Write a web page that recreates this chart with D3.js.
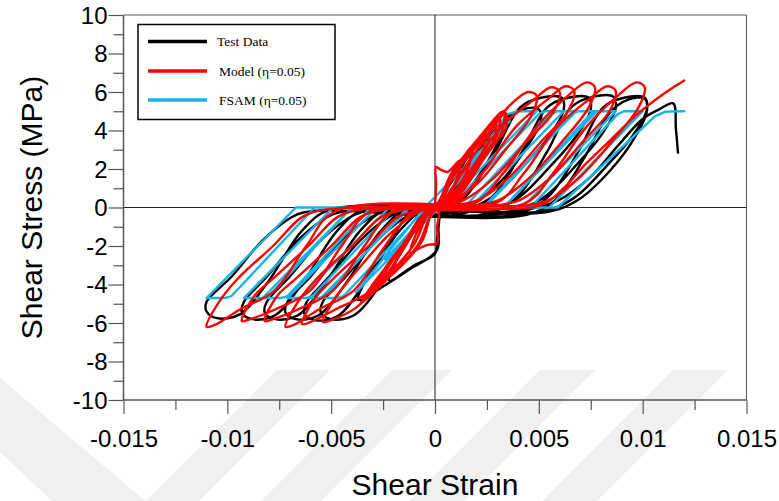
<!DOCTYPE html>
<html>
<head>
<meta charset="utf-8">
<script src="https://cdn.jsdelivr.net/npm/d3@7"></script>
<style>
  html, body { margin: 0; padding: 0; background: #fff; }
  svg { display: block; }
</style>
</head>
<body>
<div id="chart"></div>
<script>
// ---------------- DATA ----------------
const xTickValues = [-0.015, -0.01, -0.005, 0, 0.005, 0.01, 0.015];
const xTickLabels = ["-0.015", "-0.01", "-0.005", "0", "0.005", "0.01", "0.015"];
const xMinorTicks = [-0.0125, -0.0075, -0.0025, 0.0025, 0.0075, 0.0125];
const yTickValues = [-10, -8, -6, -4, -2, 0, 2, 4, 6, 8, 10];
const yTickLabels = ["-10", "-8", "-6", "-4", "-2", "0", "2", "4", "6", "8", "10"];
const yMinorTicks = [-9, -7, -5, -3, -1, 1, 3, 5, 7, 9];

const seriesNames = ["Test Data", "Model (\u03b7=0.05)", "FSAM (\u03b7=0.05)"];

// Test data: [shear strain, shear stress MPa]
const testData = [
  [0,0],[0.0006,1.0],[0.0012,2.0],[0.0018,2.9],
  [0.0013,1.5],[0.0006,0.3],[0.0002,-0.3],[0.0002,-0.7],[0.0001,-1.6],[0.0000,-2.4],[-0.0010,-3.0],[-0.0022,-3.8],
  [-0.0017,-2.4],[-0.0009,-0.8],[-0.0003,0.05],
  [0.0005,0.4],[0.0014,1.9],[0.0025,3.5],[0.0034,4.6],
  [0.0029,3.1],[0.0018,1.2],[0.0006,-0.2],[0.0002,-0.6],[0.0001,-2.2],[-0.0012,-3.2],[-0.0025,-4.1],[-0.0037,-4.8],
  [-0.0031,-3.3],[-0.0020,-1.4],[-0.0008,0.0],
  [0.0004,-0.2],[0.0012,0.9],[0.0024,3.0],[0.0034,4.6],[0.0042,5.1],[0.0050,5.1],
  [0.0051,4.5],[0.0044,3.1],[0.0032,1.4],[0.0018,0.2],[0.0004,-0.3],
  [-0.0003,0.0],[-0.0010,-1.2],[-0.0025,-3.8],[-0.0039,-5.6],[-0.0050,-5.8],[-0.0055,-5.45],
  [-0.0054,-4.9],[-0.0043,-3.6],[-0.0027,-1.6],[-0.0011,-0.3],[-0.0002,0.0],
  [0.0004,-0.3],[0.0015,0.6],[0.0029,2.9],[0.0041,5.2],[0.0051,5.7],[0.0061,5.7],
  [0.0062,5.1],[0.0055,3.7],[0.0043,2.2],[0.0027,0.5],[0.0011,-0.2],
  [-0.0003,0.0],[-0.0017,-1.2],[-0.0033,-3.8],[-0.0047,-5.65],[-0.0058,-5.85],[-0.0063,-5.5],
  [-0.0062,-4.95],[-0.0051,-3.6],[-0.0035,-1.6],[-0.0019,-0.3],[-0.0005,-0.05],
  [0.0014,-0.3],[0.0028,0.6],[0.0042,2.9],[0.0054,5.2],[0.0064,5.7],[0.0074,5.7],
  [0.0075,5.1],[0.0068,3.7],[0.0056,2.2],[0.0040,0.5],[0.0024,-0.2],
  [-0.0012,0.0],[-0.0026,-1.2],[-0.0042,-3.8],[-0.0056,-5.6],[-0.0067,-5.8],[-0.0072,-5.45],
  [-0.0071,-4.9],[-0.0060,-3.6],[-0.0044,-1.6],[-0.0028,-0.35],[-0.0014,-0.1],
  [0.0004,-0.4],[0.0026,-0.3],[0.0040,0.6],[0.0054,2.9],[0.0066,5.25],[0.0076,5.75],[0.0086,5.75],
  [0.0087,5.15],[0.0080,3.75],[0.0068,2.2],[0.0052,0.5],[0.0036,-0.2],
  [-0.0022,-0.05],[-0.0036,-1.2],[-0.0052,-3.8],[-0.0066,-5.6],[-0.0077,-5.8],[-0.0082,-5.45],
  [-0.0081,-4.9],[-0.0070,-3.6],[-0.0054,-1.6],[-0.0038,-0.35],[-0.0024,-0.1],
  [0.0004,-0.45],[0.0041,-0.3],[0.0055,0.6],[0.0069,2.9],[0.0081,5.2],[0.0091,5.7],[0.0101,5.7],
  [0.0102,5.1],[0.0095,3.7],[0.0083,2.2],[0.0067,0.5],[0.0051,-0.2],
  [-0.0033,-0.05],[-0.0047,-1.2],[-0.0063,-3.8],[-0.0077,-5.6],[-0.0088,-5.8],[-0.0093,-5.45],
  [-0.0092,-4.9],[-0.0081,-3.6],[-0.0065,-1.6],[-0.0049,-0.35],[-0.0035,-0.15],
  [0.0004,-0.5],[0.0045,-0.35],[0.0058,0.4],[0.0072,2.6],[0.0084,4.9],[0.0093,5.6],[0.0101,5.65],
  [0.0102,5.0],[0.0096,3.6],[0.0085,2.0],[0.0069,0.4],[0.0053,-0.25],
  [-0.0050,-0.1],[-0.0064,-1.2],[-0.0080,-3.8],[-0.0094,-5.55],[-0.0105,-5.75],[-0.0110,-5.4],
  [-0.0110,-4.9],[-0.0098,-3.6],[-0.0082,-1.6],[-0.0066,-0.35],[-0.0052,-0.15],
  [0.0005,-0.5],[0.0030,-0.35],[0.0045,-0.1],[0.0060,0.4],[0.0075,1.6],[0.0088,3.2],[0.0100,4.6],[0.0108,5.1],[0.01147,5.41],[0.0116,4.1],[0.0117,2.85]
];

// Model (eta = 0.05)
const modelData = [
  [0,0],[0.00005,1.2],[0.00005,2.1],[0.0003,1.95],[0.0006,1.85],[0.0012,2.45],
  [0.0011,1.7],[0.0006,0.6],[0.0001,0.0],
  [0.0002,-0.3],[0.0001,-1.0],[0.0001,-1.85],[-0.0004,-1.95],[-0.0009,-2.2],[-0.0012,-2.4],
  [-0.0010,-1.6],[-0.0005,-0.6],[0,0],
  [0.0002,0.3],[0.0008,1.6],[0.0013,2.5],[0.0018,3.2],
  [0.0017,2.4],[0.0012,1.2],[0.0005,0.2],[0.0001,0],
  [-0.0002,-0.4],[-0.0006,-1.6],[-0.0012,-2.5],[-0.0019,-3.1],
  [-0.0018,-2.6],[-0.0011,-1.4],[-0.0004,-0.3],[0,0],
  [0.0002,0.3],[0.0009,1.7],[0.0017,2.9],[0.0024,3.95],
  [0.0023,2.9],[0.0016,1.6],[0.0007,0.3],[0.0001,0],
  [-0.0002,-0.4],[-0.0006,-1.7],[-0.0015,-2.9],[-0.0025,-3.8],
  [-0.0022,-3.0],[-0.0013,-1.7],[-0.0004,-0.4],[0,0],
  [0.0002,0.3],[0.0008,1.8],[0.0017,3.0],[0.0026,4.1],
  [0.0025,3.2],[0.0018,2.0],[0.0008,0.5],[0.0001,0],
  [-0.0002,-0.4],[-0.0007,-1.8],[-0.0017,-3.0],[-0.0028,-4.1],
  [-0.0025,-3.3],[-0.0016,-2.0],[-0.0005,-0.5],[0,0],
  [0.0003,0.4],[0.0010,1.8],[0.0020,3.2],[0.0029,4.5],
  [0.0028,3.4],[0.0020,2.0],[0.0009,0.4],[0.0001,0],
  [-0.0002,-0.4],[-0.0007,-1.8],[-0.0018,-3.1],[-0.0031,-4.5],
  [-0.0027,-3.6],[-0.0016,-2.1],[-0.0005,-0.5],[0,0],
  [0.0003,0.3],[0.0010,1.9],[0.0020,3.3],[0.0031,4.7],
  [0.0030,3.8],[0.0022,2.5],[0.0010,0.6],[0.0001,0],
  [-0.0002,-0.4],[-0.0008,-1.9],[-0.0020,-3.4],[-0.0033,-4.7],
  [-0.0029,-3.9],[-0.0019,-2.5],[-0.0007,-0.7],[0,0],
  [0.0003,0.4],[0.0009,1.9],[0.0021,3.6],[0.0033,5.0],
  [0.0032,3.9],[0.0024,2.6],[0.0012,0.7],[0.0002,0],
  [-0.0002,-0.4],[-0.0008,-1.9],[-0.0022,-3.6],[-0.0036,-5.0],
  [-0.0030,-4.0],[-0.0020,-2.6],[-0.0008,-0.8],[0,0],
  [0.0004,0.3],[0.0013,1.9],[0.0024,3.5],[0.0034,4.9],
  [0.0034,4.1],[0.0026,3.0],[0.0014,1.0],[0.0002,0],
  [-0.0003,-0.3],[-0.0010,-1.9],[-0.0024,-3.7],[-0.0035,-4.9],
  [-0.0031,-4.2],[-0.0022,-3.0],[-0.0010,-1.2],[-0.0001,0],
  [0.0004,0.2],[0.0012,1.6],[0.0024,3.6],[0.0036,5.3],[0.0045,6.0],[0.0049,5.8],
  [0.0046,4.7],[0.0034,3.0],[0.0020,1.2],[0.0008,0.3],[0.0002,0.0],
  [-0.0004,-0.2],[-0.0012,-1.6],[-0.0024,-3.6],[-0.0038,-5.2],[-0.0050,-5.85],[-0.0054,-5.95],
  [-0.0048,-4.7],[-0.0037,-3.2],[-0.0022,-1.4],[-0.0009,-0.3],[-0.0002,0.0],
  [0.0004,0.2],[0.0016,1.8],[0.0032,4.2],[0.0047,5.55],[0.0056,6.25],[0.0060,6.0],
  [0.0057,4.95],[0.0044,3.4],[0.0028,1.5],[0.0014,0.4],[0.0004,0.1],
  [-0.0004,-0.2],[-0.0016,-2.0],[-0.0031,-4.3],[-0.0048,-5.3],[-0.0060,-5.95],[-0.0064,-6.05],
  [-0.0058,-4.75],[-0.0049,-3.7],[-0.0032,-2.0],[-0.0018,-0.5],[-0.0006,-0.1],
  [0.0009,0.2],[0.0023,1.8],[0.0039,4.2],[0.0054,5.6],[0.0063,6.3],[0.0067,6.05],
  [0.0064,5.0],[0.0051,3.4],[0.0035,1.5],[0.0021,0.4],[0.0009,0.1],
  [-0.0010,-0.2],[-0.0024,-2.0],[-0.0039,-4.3],[-0.0056,-5.3],[-0.0068,-6.1],[-0.0072,-6.2],
  [-0.0066,-4.9],[-0.0057,-3.7],[-0.0040,-2.0],[-0.0026,-0.5],[-0.0014,-0.1],
  [0.0019,0.2],[0.0033,1.8],[0.0049,4.2],[0.0064,5.8],[0.0073,6.5],[0.0077,6.25],
  [0.0074,5.2],[0.0061,3.4],[0.0045,1.5],[0.0031,0.4],[0.0019,0.1],
  [-0.0020,-0.2],[-0.0034,-2.0],[-0.0049,-4.3],[-0.0066,-5.3],[-0.0078,-5.8],[-0.0082,-5.9],
  [-0.0076,-4.6],[-0.0067,-3.7],[-0.0050,-2.0],[-0.0036,-0.5],[-0.0024,-0.1],
  [0.0029,0.2],[0.0043,1.8],[0.0059,4.2],[0.0074,5.6],[0.0083,6.3],[0.0087,6.05],
  [0.0084,5.0],[0.0071,3.4],[0.0055,1.5],[0.0041,0.4],[0.0029,0.1],
  [-0.0031,-0.2],[-0.0045,-2.0],[-0.0060,-4.3],[-0.0077,-5.3],[-0.0089,-5.8],[-0.0093,-5.9],
  [-0.0087,-4.6],[-0.0078,-3.7],[-0.0061,-2.0],[-0.0047,-0.5],[-0.0035,-0.1],
  [0.0043,0.2],[0.0057,1.8],[0.0073,4.2],[0.0088,5.8],[0.0097,6.5],[0.0101,6.25],
  [0.0098,5.2],[0.0085,3.4],[0.0069,1.5],[0.0055,0.4],[0.0043,0.1],
  [-0.0048,-0.2],[-0.0062,-2.0],[-0.0077,-4.3],[-0.0094,-5.3],[-0.0106,-6.1],[-0.0110,-6.2],
  [-0.0104,-4.9],[-0.0095,-3.7],[-0.0078,-2.0],[-0.0064,-0.5],[-0.0052,-0.1],
  [0.0000,0.0],[0.0050,0.1],[0.0062,1.0],[0.0072,2.2],[0.0083,3.35],[0.0098,4.9],[0.0110,5.9],[0.0120,6.6]
];

// FSAM (eta = 0.05)
const fsamData = [
  [0,0],[0.0024,2.8],[-0.0001,0],[-0.0024,-2.7],[0.0001,0],
  [0.0036,4.5],[-0.0005,0],[-0.0038,-4.4],[0.0002,0],
  [0.0035,4.85],[0.0040,5.0],[0.0049,5.0],[0.0004,0],[-0.0004,0],[-0.0044,-4.6],[-0.0047,-4.7],[-0.0055,-4.7],[-0.0012,0],
  [0.0007,0],[0.0050,4.85],[0.0053,5.0],[0.0062,5.0],[0.0017,0],[-0.0013,0],[-0.0053,-4.6],[-0.0056,-4.7],[-0.0065,-4.7],[-0.0022,0],
  [0.0014,0],[0.0056,4.85],[0.0059,5.0],[0.0068,5.0],[0.0023,0],[-0.0019,0],[-0.0059,-4.6],[-0.0062,-4.7],[-0.0071,-4.7],[-0.0028,0],
  [0.0024,0],[0.0066,4.85],[0.0069,5.0],[0.0078,5.0],[0.0033,0],[-0.0031,0],[-0.0071,-4.6],[-0.0074,-4.7],[-0.0083,-4.7],[-0.0040,0],
  [0.0033,0],[0.0075,4.85],[0.0078,5.0],[0.0087,5.0],[0.0042,0],[-0.0040,0],[-0.0080,-4.6],[-0.0083,-4.7],[-0.0092,-4.7],[-0.0049,0],
  [0.0046,0],[0.0088,4.85],[0.0091,5.0],[0.0100,5.0],[0.0055,0],[-0.0058,0],[-0.0098,-4.6],[-0.0101,-4.7],[-0.0110,-4.7],[-0.0067,0],
  [0.0059,0],[0.0106,4.75],[0.0111,4.98],[0.0120,5.0]
];

const seriesColors = ["#000000", "#ff0000", "#14b4ea"];

// ---------------- DRAW ----------------
const W = 779, H = 501;
const M = { left: 123.5, right: 746.5, top: 15, bottom: 400 };

const svg = d3.select("#chart").append("svg")
  .attr("width", W).attr("height", H)
  .attr("viewBox", `0 0 ${W} ${H}`);

svg.append("rect").attr("width", W).attr("height", H).attr("fill", "#fff");

// faint background watermark stripes (decoration)
const wm = svg.append("g").attr("fill", "#f0f0f0");
const stripes = [
  [[0,378],[145,501],[52,501],[0,452]],
  [[277,370],[330,370],[199,501],[146,501]],
  [[392,370],[452,370],[321,501],[261,501]],
  [[540,370],[595,370],[464,501],[409,501]],
  [[673,370],[728,370],[597,501],[542,501]]
];
stripes.forEach(p => wm.append("polygon").attr("points", p.map(q => q.join(",")).join(" ")));

const x = d3.scaleLinear().domain([-0.015, 0.015]).range([M.left, M.right]);
const y = d3.scaleLinear().domain([-10, 10]).range([M.bottom, M.top]);

const axisColor = "#555";
const font = "'Liberation Sans', Arial, Helvetica, sans-serif";

// frame
svg.append("line").attr("x1", M.left).attr("x2", M.right).attr("y1", M.top).attr("y2", M.top)
  .attr("stroke", axisColor).attr("stroke-width", 1);
svg.append("line").attr("x1", M.right).attr("x2", M.right).attr("y1", M.top).attr("y2", M.bottom)
  .attr("stroke", axisColor).attr("stroke-width", 1);

// zero lines
svg.append("line").attr("x1", M.left).attr("x2", M.right).attr("y1", y(0)).attr("y2", y(0))
  .attr("stroke", "#222").attr("stroke-width", 1);
svg.append("line").attr("x1", x(0)).attr("x2", x(0)).attr("y1", M.top).attr("y2", M.bottom)
  .attr("stroke", "#222").attr("stroke-width", 1);

// X axis
const gx = svg.append("g").attr("transform", `translate(0,${M.bottom})`);
gx.call(d3.axisBottom(x).tickValues(xTickValues).tickSize(14).tickFormat((d, i) => xTickLabels[i]));
gx.select(".domain").remove();
gx.selectAll(".tick line").attr("stroke", axisColor).attr("stroke-width", 1.2);
gx.selectAll(".tick text").attr("font-family", font).attr("font-size", 24).attr("fill", "#000")
  .attr("dy", null).attr("y", 47);
const gxm = svg.append("g").attr("transform", `translate(0,${M.bottom})`);
gxm.call(d3.axisBottom(x).tickValues(xMinorTicks).tickSize(10).tickFormat(""));
gxm.select(".domain").remove();
gxm.selectAll(".tick line").attr("stroke", axisColor).attr("stroke-width", 1.2);
svg.append("line").attr("x1", M.left).attr("x2", M.right).attr("y1", M.bottom).attr("y2", M.bottom)
  .attr("stroke", axisColor).attr("stroke-width", 1.5);

// Y axis
const gy = svg.append("g").attr("transform", `translate(${M.left},0)`);
gy.call(d3.axisLeft(y).tickValues(yTickValues).tickSize(15).tickFormat((d, i) => yTickLabels[i]));
gy.select(".domain").remove();
gy.selectAll(".tick line").attr("stroke", axisColor).attr("stroke-width", 1.2);
gy.selectAll(".tick text").attr("font-family", font).attr("font-size", 24).attr("fill", "#000")
  .attr("x", -16).attr("dy", "0.35em");
const gym = svg.append("g").attr("transform", `translate(${M.left},0)`);
gym.call(d3.axisLeft(y).tickValues(yMinorTicks).tickSize(10).tickFormat(""));
gym.select(".domain").remove();
gym.selectAll(".tick line").attr("stroke", axisColor).attr("stroke-width", 1.2);
svg.append("line").attr("x1", M.left).attr("x2", M.left).attr("y1", M.top).attr("y2", M.bottom)
  .attr("stroke", axisColor).attr("stroke-width", 1.5);

// axis titles
svg.append("text").attr("x", x(0)).attr("y", 495).attr("text-anchor", "middle")
  .attr("font-family", font).attr("font-size", 30).attr("fill", "#000").text("Shear Strain");
svg.append("text").attr("transform", `translate(42,${y(0)}) rotate(-90)`).attr("text-anchor", "middle")
  .attr("font-family", font).attr("font-size", 30).attr("fill", "#000").text("Shear Stress (MPa)");

// curves
const smooth = d3.line().x(d => x(d[0])).y(d => y(d[1])).curve(d3.curveCatmullRom.alpha(0.5));
const straight = d3.line().x(d => x(d[0])).y(d => y(d[1])).curve(d3.curveLinear);

const plot = svg.append("g").attr("fill", "none").attr("stroke-linejoin", "round").attr("stroke-linecap", "round");
plot.append("path").datum(testData).attr("d", smooth).attr("stroke", seriesColors[0]).attr("stroke-width", 2.4);
plot.append("path").datum(fsamData).attr("d", straight).attr("stroke", seriesColors[2]).attr("stroke-width", 2.4);
plot.append("path").datum(modelData).attr("d", smooth).attr("stroke", seriesColors[1]).attr("stroke-width", 2.4);

// legend
const lg = svg.append("g");
lg.append("rect").attr("x", 138).attr("y", 24.5).attr("width", 197).attr("height", 95)
  .attr("fill", "#fff").attr("stroke", "#000").attr("stroke-width", 1.5);
const legendRows = [41.5, 71, 100];
seriesNames.forEach((name, i) => {
  lg.append("line").attr("x1", 148).attr("x2", 207).attr("y1", legendRows[i]).attr("y2", legendRows[i])
    .attr("stroke", seriesColors[i]).attr("stroke-width", 3.5);
  lg.append("text").attr("x", i === 0 ? 217 : 219).attr("y", legendRows[i] + 4.5)
    .attr("font-family", "'Liberation Serif', 'Times New Roman', serif").attr("font-size", 13.5)
    .attr("fill", "#000").text(name);
});
</script>
</body>
</html>
